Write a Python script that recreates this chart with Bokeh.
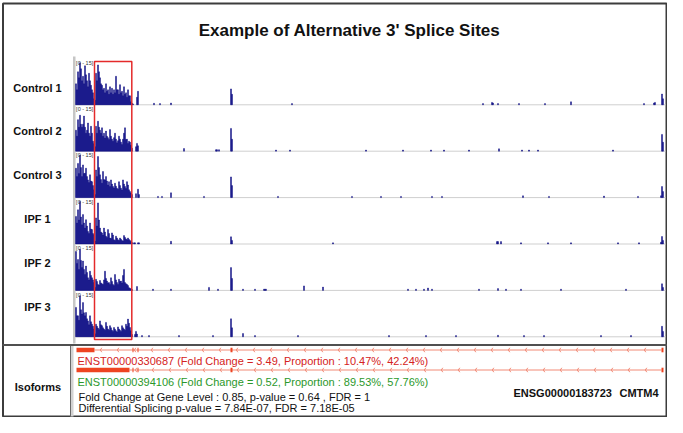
from bokeh.plotting import figure
from bokeh.models import Range1d
from bokeh.core.properties import value
from bokeh.embed import file_html
from bokeh.resources import INLINE

# ---------------- data ----------------
title_text = "Example of Alternative 3' Splice Sites"
samples = ["Control 1", "Control 2", "Control 3", "IPF 1", "IPF 2", "IPF 3"]
range_label = "[0 - 15]"
range_max = 15

# read coverage in 1-pixel genomic bins 0..56 (first exon / alternative 3' region)
cov_control1 = [7, 5, 11, 9, 14, 12, 8, 9.5, 7, 13, 10, 8, 6, 10.5, 8, 6.5, 5, 4, 2, 1.5,
                10.5, 8, 13.3, 11, 9, 7, 6.5, 5, 5.5, 4, 7, 4.5, 5, 3.5, 6, 4, 5.5, 3.5, 5, 4,
                9.5, 5, 5, 3.5, 6.7, 4, 4.5, 3, 6, 3.5, 4, 2.5, 5, 3, 3, 1, 0.5]
cov_control2 = [7, 5, 10.5, 8, 12, 9, 8, 9, 11.7, 8, 6, 7, 9.4, 6, 5, 8.3, 6, 3.3, 2.5, 1.5,
                8.3, 6, 10, 8, 7, 6, 7.8, 5, 6, 4.4, 6.7, 5, 4.5, 3.9, 7.2, 5, 4, 3.3, 4.5, 6,
                4, 2.8, 3.5, 5, 4, 3, 2.2, 4, 6, 7.8, 3.9, 4, 2.6, 3.3, 3, 2, 1]
cov_control3 = [9.8, 7, 11.4, 8, 14.2, 10, 7, 10.9, 8, 8.1, 9.8, 7, 5.9, 5, 7.6, 5.5, 5.3, 4, 2.6, 1,
                9.2, 7, 13.7, 10, 7.6, 6, 4.8, 8.7, 6, 5.9, 7, 5.5, 4.2, 5.3, 3.7, 5.9, 4.5, 3.7, 3.2, 4.8,
                3.8, 3.1, 2.8, 5.3, 4, 3.1, 2.5, 5.9, 4.5, 3.7, 3, 5.3, 4.2, 2.6, 2, 1.5, 1]
cov_ipf1 = [9.2, 7, 11.4, 8, 14.2, 9, 6.4, 9.8, 7, 5.3, 8.1, 6, 4.2, 3.5, 7, 5, 4.8, 3.5, 3.1, 1,
            8.7, 6, 13.7, 8, 5.3, 4, 3.7, 3, 5.3, 4, 2.6, 2.2, 4.8, 3.5, 2, 1.8, 3.7, 3, 1.4, 1.2,
            2.6, 2, 1.4, 1.2, 2, 1.6, 1.2, 1, 2.8, 2.2, 1.7, 1.4, 2, 1.5, 1.2, 0.8, 0.5]
cov_ipf2 = [13, 9, 10.3, 7, 13.7, 10, 7.6, 9.8, 7, 5.3, 8.1, 6, 4.2, 3.5, 6.4, 5, 4.2, 3.5, 2.6, 1,
            3.7, 3, 2, 1.8, 3.3, 2.5, 2.2, 2, 3.5, 6.4, 4, 3.1, 2.5, 2.6, 2, 4.2, 3, 2, 1.6, 5.3,
            3.5, 2.6, 2, 3.7, 3, 3.1, 2.5, 5, 7, 2.6, 2.2, 2, 1.6, 0.9, 0.7, 0.5, 0.3]
cov_ipf3 = [9.8, 7, 7, 5.5, 13.7, 9, 7.6, 11.4, 8, 7, 8.1, 6, 5.3, 4, 7, 5, 4.2, 3.5, 2.6, 1,
            4.2, 3.5, 2.9, 2.4, 5.3, 4, 3.7, 3, 2.6, 2.2, 4.8, 3.5, 2.6, 2.2, 3.7, 3, 2.2, 1.8, 3.1, 2.5,
            2, 1.6, 3.3, 2.6, 2.2, 1.8, 3.7, 3, 2.6, 2.2, 4.2, 3.5, 5.9, 4.5, 3.1, 2, 0.8]

# sparse coverage over the rest of the gene: bin positions and coverage
spk_control1_pos = [57, 61, 62, 78, 84, 95, 155, 156, 216, 407, 416, 417, 422, 443, 469, 495, 568, 578, 579, 586, 587]
spk_control1_val = [0.3, 2.5, 4.5, 0.5, 0.4, 0.6, 5.3, 3.5, 0.4, 0.4, 0.8, 0.6, 0.4, 0.4, 0.4, 1.0, 0.4, 0.6, 0.8, 3.6, 2.0]
spk_control2_pos = [60, 61, 62, 108, 140, 141, 143, 155, 156, 200, 214, 290, 327, 355, 368, 393, 423, 446, 453, 462, 537, 586, 587]
spk_control2_val = [1.5, 2.6, 1.8, 0.9, 0.5, 0.5, 0.5, 7.6, 4.0, 0.4, 0.4, 0.4, 0.4, 0.4, 0.4, 0.4, 0.8, 0.4, 0.4, 0.4, 0.4, 5.6, 3.0]
spk_control3_pos = [60, 62, 63, 82, 86, 95, 128, 155, 156, 202, 276, 305, 325, 356, 366, 447, 473, 528, 562, 585, 586, 587]
spk_control3_val = [1.3, 2.8, 1.0, 0.4, 0.4, 1.6, 0.4, 6.9, 4.0, 0.4, 0.4, 0.4, 0.4, 0.4, 0.4, 0.6, 0.4, 0.5, 0.4, 0.6, 3.7, 2.0]
spk_ipf1_pos = [58, 59, 62, 63, 95, 155, 156, 257, 421, 422, 425, 445, 472, 495, 542, 563, 585, 586, 587]
spk_ipf1_val = [0.4, 0.4, 0.4, 0.4, 0.9, 2.4, 1.2, 0.4, 0.8, 0.8, 0.8, 0.4, 0.4, 0.4, 0.4, 0.4, 0.6, 2.5, 1.2]
spk_ipf2_pos = [61, 77, 95, 133, 142, 155, 156, 167, 179, 188, 189, 190, 228, 247, 332, 340, 348, 352, 356, 403, 422, 430, 445, 485, 550, 586, 587]
spk_ipf2_val = [1.3, 0.4, 0.4, 1.0, 0.4, 7.6, 4.0, 0.4, 0.4, 0.4, 0.4, 0.4, 1.5, 1.1, 0.4, 0.4, 0.4, 0.8, 0.4, 0.4, 0.6, 0.4, 0.4, 0.4, 0.4, 2.2, 1.0]
spk_ipf3_pos = [59, 60, 61, 66, 73, 103, 137, 155, 156, 167, 179, 222, 313, 350, 380, 422, 448, 468, 525, 555, 586, 587]
spk_ipf3_val = [0.8, 1.8, 0.9, 0.4, 0.4, 0.4, 0.4, 6.0, 3.0, 1.1, 0.4, 0.4, 0.4, 0.4, 0.4, 0.5, 0.4, 0.4, 0.4, 0.4, 3.5, 1.8]

# isoforms (exon start/end in the same genomic bins)
iso1_name = "ENST00000330687"
iso1_fold_change = 3.49
iso1_proportion = [10.47, 42.24]
iso1_exon_start = [1, 57, 62, 155, 586]
iso1_exon_end = [19, 58, 63, 157, 588]
iso2_name = "ENST00000394106"
iso2_fold_change = 0.52
iso2_proportion = [89.53, 57.76]
iso2_exon_start = [1, 57, 62, 155, 586]
iso2_exon_end = [54, 58, 63, 157, 588]

gene_fold_change = 0.85
gene_p_value = 0.64
gene_fdr = 1
ds_p_value = "7.84E-07"
ds_fdr = "7.18E-05"
gene_id = "ENSG00000183723"
gene_symbol = "CMTM4"
alt_region = [19, 56.3]   # highlighted alternative 3' splice region (bins)
track_bins = 590

# ---------------- layout / style ----------------
FONT = value("Liberation Sans")
W, H = 667, 417
X0 = 75                     # page x of genomic bin 0
baselines = [104.3, 150.7, 197.1, 243.5, 289.9, 336.3]
label_y = [87, 130, 174, 218, 262, 306]
PXU = 3.0                    # pixels per coverage unit
BAR = "#050580"
ISO_RED = "#ee4422"
ISO_LINE = "#f28a76"

p = figure(width=W, height=H, x_range=Range1d(0, W), y_range=Range1d(H, 0),
           output_backend="svg", toolbar_location=None, min_border=0,
           x_axis_type=None, y_axis_type=None)
p.grid.visible = False
p.outline_line_color = None
p.background_fill_color = "white"
p.border_fill_color = "white"

extra_y = {}
for k, b in enumerate(baselines):
    extra_y[f"t{k}"] = Range1d(-(H - b) / PXU, b / PXU)
p.extra_y_ranges = extra_y
p.extra_x_ranges = {"gx": Range1d(-X0, W - X0)}

# outer frame
p.quad(left=[2.5], right=[W - 1], top=[3], bottom=[H - 1], fill_color=None,
       line_color="#3c3c3c", line_width=2)

# title
p.text(x=[349], y=[30], text=[title_text], text_font=FONT, text_font_style="bold",
       text_font_size="17px", text_align="center", text_baseline="middle", text_color="#111111")

# gray strip left of the tracks
p.quad(left=[72.5], right=[75], top=[56], bottom=[343], fill_color="#c6c6c6", line_color=None)

covs = [cov_control1, cov_control2, cov_control3, cov_ipf1, cov_ipf2, cov_ipf3]
spk_pos = [spk_control1_pos, spk_control2_pos, spk_control3_pos, spk_ipf1_pos, spk_ipf2_pos, spk_ipf3_pos]
spk_val = [spk_control1_val, spk_control2_val, spk_control3_val, spk_ipf1_val, spk_ipf2_val, spk_ipf3_val]

for k, name in enumerate(samples):
    rn = f"t{k}"
    p.segment(x0=[0], x1=[track_bins], y0=[0], y1=[0], x_range_name="gx", y_range_name=rn,
              line_color="#cfcfcf", line_width=1)
    cov = covs[k]
    p.vbar(x=[i + 0.5 for i in range(len(cov))], top=cov, bottom=0, width=1,
           x_range_name="gx", y_range_name=rn, fill_color=BAR, line_color=BAR, line_width=0.4)
    p.vbar(x=[s + 0.5 for s in spk_pos[k]], top=spk_val[k], bottom=0, width=1,
           x_range_name="gx", y_range_name=rn, fill_color=BAR, line_color=BAR, line_width=0.4)
    p.text(x=[0.6], y=[range_max + 0.1], text=[range_label], x_range_name="gx", y_range_name=rn,
           text_font=FONT, text_font_size="5.5px", text_baseline="top", text_color="#333333")
    p.text(x=[37], y=[label_y[k]], text=[name], text_font=FONT, text_font_style="bold",
           text_font_size="11px", text_align="center", text_baseline="middle", text_color="#111111")

# highlight box
p.quad(left=[alt_region[0]], right=[alt_region[1]], top=[61], bottom=[339], x_range_name="gx",
       fill_color=None, line_color="#e42a2a", line_width=1.5)

# separators
p.segment(x0=[2], x1=[W], y0=[344.5], y1=[344.5], line_color="#505050", line_width=2)
p.quad(left=[70], right=[73], top=[345.5], bottom=[H - 1], fill_color="#d2d2d2", line_color=None)
p.segment(x0=[70], x1=[70], y0=[345.5], y1=[H - 1], line_color="#6a6a6a", line_width=1)

# isoform models
iso_y = [349.5, 369.5]
for (starts, ends), y in zip([(iso1_exon_start, iso1_exon_end), (iso2_exon_start, iso2_exon_end)], iso_y):
    p.segment(x0=[ends[0]], x1=[starts[-1]], y0=[y], y1=[y], x_range_name="gx",
              line_color=ISO_LINE, line_width=1)
    xs, ys = [], []
    for c in range(ends[0] + 6, starts[-1] - 2, 17):
        xs.append([c + 1.3, c - 0.2, c + 1.3])
        ys.append([y - 2.2, y, y + 2.2])
    p.multi_line(xs=xs, ys=ys, x_range_name="gx", line_color=ISO_LINE, line_width=1)
    p.quad(left=starts, right=ends, top=[y - 2.3] * len(starts), bottom=[y + 2.3] * len(starts),
           x_range_name="gx", fill_color=ISO_RED, line_color=None)

iso1_text = f"{iso1_name} (Fold Change = {iso1_fold_change:.2f}, Proportion : {iso1_proportion[0]:.2f}%, {iso1_proportion[1]:.2f}%)"
iso2_text = f"{iso2_name} (Fold Change = {iso2_fold_change:.2f}, Proportion : {iso2_proportion[0]:.2f}%, {iso2_proportion[1]:.2f}%)"
gene_text = f"Fold Change at Gene Level : {gene_fold_change:.2f}, p-value = {gene_p_value:.2f} , FDR = {gene_fdr}"
ds_text = f"Differential Splicing p-value = {ds_p_value}, FDR = {ds_fdr}"

p.text(x=[77], y=[360.5], text=[iso1_text], text_font=FONT, text_font_size="11px",
       text_baseline="middle", text_color="#d42222")
p.text(x=[77], y=[381], text=[iso2_text], text_font=FONT, text_font_size="11px",
       text_baseline="middle", text_color="#2b982b")
p.text(x=[78, 78], y=[396.5, 407.5], text=[gene_text, ds_text], text_font=FONT, text_font_size="11px",
       text_baseline="middle", text_color="#111111")
p.text(x=[37.5], y=[386], text=["Isoforms"], text_font=FONT, text_font_style="bold",
       text_font_size="11px", text_align="center", text_baseline="middle", text_color="#111111")
p.text(x=[513, 619], y=[392, 392], text=[gene_id, gene_symbol], text_font=FONT, text_font_style="bold",
       text_font_size="11px", text_baseline="middle", text_color="#111111")

open("out.html", "w").write(file_html(p, INLINE))
